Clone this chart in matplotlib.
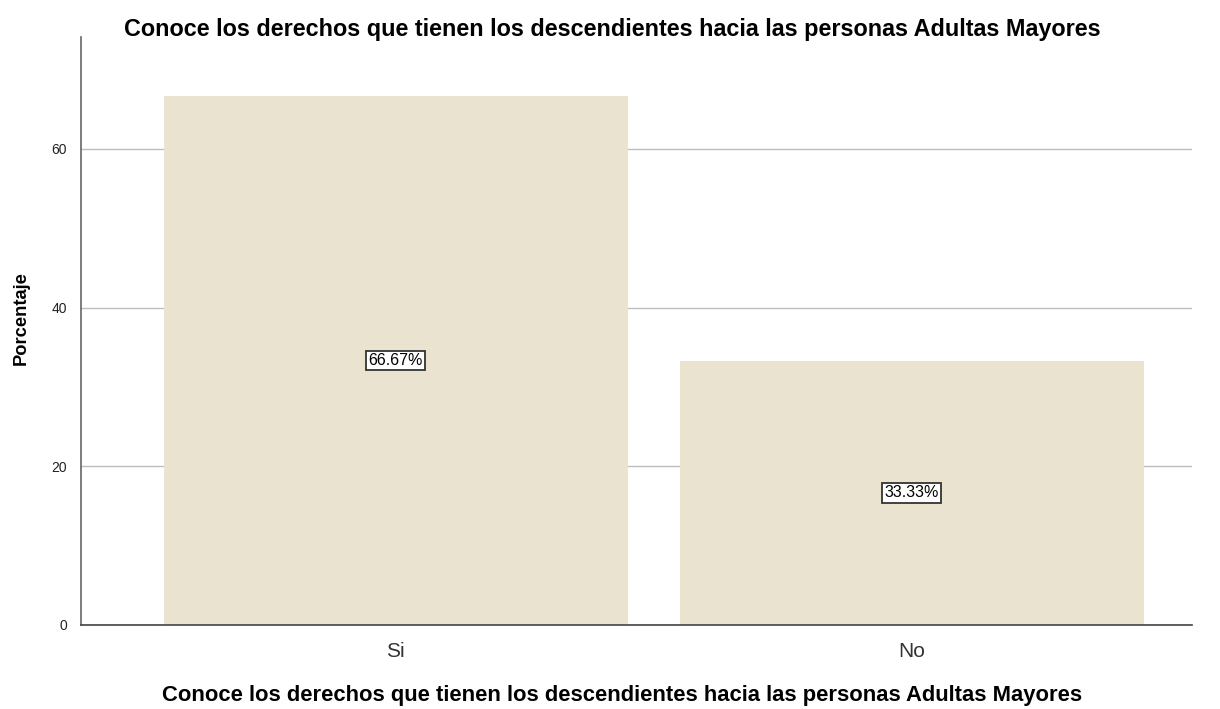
import matplotlib
matplotlib.use("Agg")
import matplotlib.pyplot as plt

categories = ["Si", "No"]
percentages = [66.67, 33.33]
labels = ["66.67%", "33.33%"]
yticks = [0, 20, 40, 60]

plt.rcParams['font.family'] = ['Liberation Sans', 'DejaVu Sans']

fig = plt.figure(figsize=(12.2, 7.09), dpi=100)
ax = fig.add_axes([0.0664, 0.1185, 0.9106, 0.8293])

x = list(range(len(categories)))
ax.bar(x, percentages, width=0.9, color="#EAE3D0", zorder=2)
for xi, v, lab in zip(x, percentages, labels):
    ax.text(xi, v / 2, lab, ha="center", va="center", fontsize=11.5, color="black",
            bbox=dict(boxstyle="square,pad=0.15", facecolor="white", edgecolor="#333333", linewidth=1.3),
            zorder=3)

ax.set_xlim(-0.61, 1.543)
ax.set_ylim(0, 74.1)
ax.set_yticks(yticks)
ax.set_xticks(x)
ax.set_xticklabels(categories, fontsize=15, color="#333333")
ax.tick_params(axis="y", labelsize=10, colors="#222222", length=0, pad=10)
ax.tick_params(axis="x", length=0, pad=12)
ax.yaxis.grid(True, color="#BDBDBD", linewidth=1.0, zorder=1)
ax.set_axisbelow(True)

for s in ["top", "right"]:
    ax.spines[s].set_visible(False)
ax.spines["left"].set_color("#666666")
ax.spines["left"].set_linewidth(1.2)
ax.spines["bottom"].set_color("#444444")
ax.spines["bottom"].set_linewidth(1.2)

ax.set_title("Conoce los derechos que tienen los descendientes hacia las personas Adultas Mayores",
             fontsize=16.8, fontweight="bold", pad=0, x=0.478, y=1.002)
ax.set_xlabel("Conoce los derechos que tienen los descendientes hacia las personas Adultas Mayores",
              fontsize=15.8, fontweight="bold")
ax.xaxis.set_label_coords(0.487, -0.102)
ax.set_ylabel("Porcentaje", fontsize=13.2, fontweight="bold")
ax.yaxis.set_label_coords(-0.046, 0.522)

fig.savefig("out.png", dpi=100)
